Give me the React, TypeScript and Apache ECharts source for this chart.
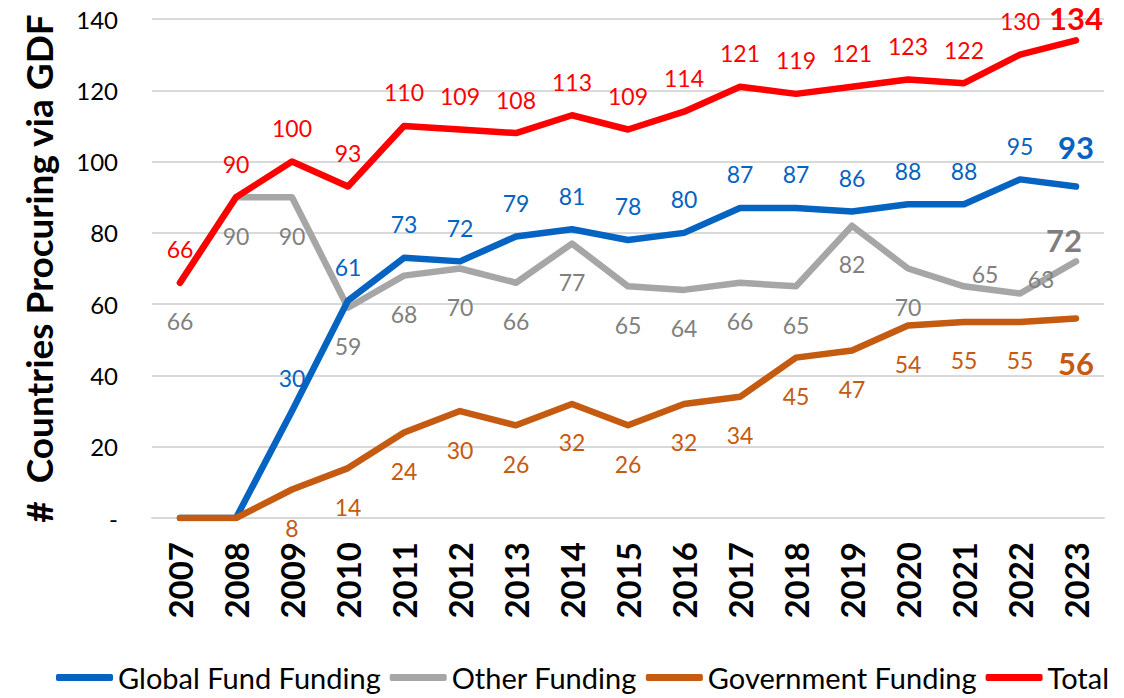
import React, { useEffect, useRef } from "react";
import * as echarts from "echarts";

const years = ["2007","2008","2009","2010","2011","2012","2013","2014","2015","2016","2017","2018","2019","2020","2021","2022","2023"];
const globalFund = [0, 0, 30, 61, 73, 72, 79, 81, 78, 80, 87, 87, 86, 88, 88, 95, 93];
const otherFunding = [66, 90, 90, 59, 68, 70, 66, 77, 65, 64, 66, 65, 82, 70, 65, 63, 72];
const government = [0, 0, 8, 14, 24, 30, 26, 32, 26, 32, 34, 45, 47, 54, 55, 55, 56];
const total = [66, 90, 100, 93, 110, 109, 108, 113, 109, 114, 121, 119, 121, 123, 122, 130, 134];
const yTicks = { min: 0, max: 140, interval: 20 };

const FONT = "Lato";
const BLUE = "#0563C1";
const GRAY = "#A6A6A6";
const ORANGE = "#C55A11";
const RED = "#FF0000";

export default function App() {
  const ref = useRef<HTMLDivElement>(null);
  useEffect(() => {
    if (!ref.current) return;
    const chart = echarts.init(ref.current, null, { renderer: "svg" });
    const last = years.length - 1;

    const mkData = (vals: number[], hideZero: boolean, overrides: Record<number, any>) =>
      vals.map((v, i) => {
        const item: any = { value: v };
        if (hideZero && v === 0) item.label = { show: false };
        else if (overrides[i]) item.label = { ...overrides[i] };
        return item;
      });

    const bigLabel = (color: string, extra: any) => ({
      fontSize: 31,
      fontWeight: "bold",
      color,
      ...extra,
    });

    const lineSeries = (
      name: string,
      color: string,
      labelColor: string,
      vals: number[],
      pos: string,
      dist: number,
      hideZero: boolean,
      overrides: Record<number, any>,
      z: number
    ) => ({
      name,
      type: "line",
      z,
      data: mkData(vals, hideZero, overrides),
      symbol: "circle",
      symbolSize: 0,
      showSymbol: true,
      lineStyle: { color, width: 6.5, cap: "round", join: "round" },
      itemStyle: { color },
      label: {
        show: true,
        position: pos,
        distance: dist,
        color: labelColor,
        fontFamily: FONT,
        fontSize: 23,
      },
      emphasis: { disabled: true },
    });

    const option: any = {
      animation: false,
      backgroundColor: "#ffffff",
      textStyle: { fontFamily: FONT },
      grid: { left: 152, right: 20, top: 19, bottom: 180, containLabel: false },
      legend: {
        top: 658,
        left: 51,
        itemWidth: 57,
        itemHeight: 7,
        itemGap: 9,
        icon: "roundRect",
        textStyle: { fontFamily: FONT, fontSize: 29, color: "#000" },
        data: [
          { name: "Global Fund Funding", itemStyle: { color: BLUE } },
          { name: "Other Funding", itemStyle: { color: GRAY } },
          { name: "Government Funding", itemStyle: { color: ORANGE } },
          { name: "Total", itemStyle: { color: RED } },
        ],
      },
      xAxis: {
        type: "category",
        data: years,
        boundaryGap: true,
        axisLine: { show: true, lineStyle: { color: "#D9D9D9", width: 2 } },
        axisTick: { show: false },
        axisLabel: {
          rotate: 90,
          margin: 24,
          fontFamily: FONT,
          fontWeight: "bold",
          fontSize: 33,
          color: "#000",
          interval: 0,
        },
      },
      yAxis: {
        type: "value",
        min: yTicks.min,
        max: yTicks.max,
        interval: yTicks.interval,
        name: "#  Countries Procuring via GDF",
        nameLocation: "middle",
        nameRotate: 90,
        nameGap: 95,
        nameTextStyle: { fontFamily: FONT, fontWeight: "bold", fontSize: 37, color: "#000" },
        axisLine: { show: false },
        axisTick: { show: false },
        splitLine: { lineStyle: { color: "#D9D9D9", width: 2 } },
        axisLabel: {
          margin: 34,
          fontFamily: FONT,
          fontSize: 24,
          color: "#000",
          formatter: (v: number) => (v === 0 ? "-" : String(v)),
        },
      },
      series: [
        lineSeries("Other Funding", GRAY, "#808080", otherFunding, "bottom", 27, false, {
          14: { position: "top", distance: 1, offset: [21, 0] },
          15: { position: "top", distance: 3, offset: [21, 0] },
          [last]: bigLabel("#7F7F7F", { position: "top", distance: 6, offset: [-12, 0] }),
        }, 2),
        lineSeries("Global Fund Funding", BLUE, BLUE, globalFund, "top", 22, true, {
          [last]: bigLabel(BLUE, { position: "top", distance: 24 }),
        }, 3),
        lineSeries("Government Funding", ORANGE, ORANGE, government, "bottom", 27, true, {
          [last]: bigLabel(ORANGE, { position: "bottom", distance: 29 }),
        }, 4),
        lineSeries("Total", RED, RED, total, "top", 22, false, {
          [last]: bigLabel(RED, { position: "top", distance: 7 }),
        }, 5),
      ],
    };
    chart.setOption(option);
    return () => chart.dispose();
  }, []);
  return (
    <div
      ref={ref}
      style={{ position: "fixed", left: 0, top: 0, width: 1124, height: 698, background: "#fff" }}
    />
  );
}
